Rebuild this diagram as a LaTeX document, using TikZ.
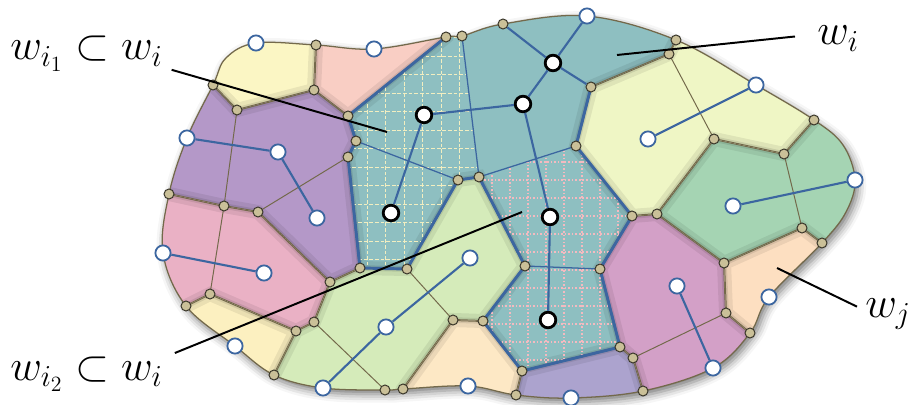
\RequirePackage{fix-cm}
\documentclass[tikz,border=0pt]{standalone}
\usetikzlibrary{shadows.blur}

\definecolor{cellYellow}{RGB}{251,246,196}
\definecolor{cellSalmon}{RGB}{249,206,196}
\definecolor{cellPurple}{RGB}{180,152,200}
\definecolor{cellPink}{RGB}{234,177,197}
\definecolor{cellCream}{RGB}{252,240,192}
\definecolor{cellGreen}{RGB}{213,235,186}
\definecolor{cellSand}{RGB}{253,232,197}
\definecolor{cellLavender}{RGB}{172,163,206}
\definecolor{cellMagenta}{RGB}{211,160,199}
\definecolor{cellPeach}{RGB}{253,223,193}
\definecolor{cellMint}{RGB}{165,212,179}
\definecolor{cellLime}{RGB}{239,246,197}
\definecolor{cellTeal}{RGB}{142,191,193}
\definecolor{linkBlue}{RGB}{60,102,160}
\definecolor{edgeBrown}{RGB}{115,105,75}
\definecolor{vtxFill}{RGB}{202,192,152}
\definecolor{vtxLine}{RGB}{55,52,40}
\definecolor{gridCream}{RGB}{242,238,192}
\definecolor{gridPink}{RGB}{245,186,192}

\tikzset{
  vtx/.style={circle, draw=vtxLine, fill=vtxFill, line width=0.7pt, inner sep=0pt, minimum size=2.5mm},
  site/.style={circle, draw=linkBlue, fill=white, line width=1.3pt, inner sep=0pt, minimum size=3.8mm},
  core/.style={circle, draw=black, fill=white, line width=2pt, inner sep=0pt, minimum size=3.9mm},
  link/.style={draw=linkBlue, line width=1.5pt},
  cut/.style={draw=linkBlue, line width=0.9pt},
  rim/.style={draw=linkBlue, line width=2.1pt, line join=round},
  seam/.style={draw=edgeBrown, line width=0.7pt},
  cellline/.style={draw=edgeBrown, line width=1.4pt},
  grida/.style={draw=gridCream, line width=0.7pt, dash pattern=on 2.6pt off 1.4pt},
  gridb/.style={draw=gridPink, line width=1pt, dash pattern=on 1.1pt off 1.4pt},
  pointer/.style={draw=black, line width=1.4pt},
  lbl/.style={font=\fontsize{31}{36}\selectfont, inner sep=0pt},
}

% one coloured cluster: fill, soft inner shade, outline
\newcommand{\cellfill}[2]{%
  \begin{scope}
    \clip #2;
    \fill[#1] #2;
    \draw[line width=10pt, black, opacity=0.07] #2;
    \draw[line width=4pt, black, opacity=0.09] #2;
    \draw[cellline] #2;
  \end{scope}}

\newcommand{\blobpath}{plot[smooth cycle, tension=0.6] coordinates {(t1) (226,58) (s1) (t4) (s2) (t6) (t7) (t8) (s21) (t9) (s20) (t38) (843,145) (s18) (846,212) (t40) (s16) (t43) (s15) (t46) (s13) (t48) (s12) (t29) (t28) (s9) (t27) (s8) (t26) (s6) (t17) (s3)}}

\begin{document}
\begin{tikzpicture}[x=0.25mm, y=-0.25mm]
\useasboundingbox (0,0) rectangle (909,405);

% voronoi vertices
\foreach \n/\x/\y in {t1/213/85, t2/237/110, t3/314/90, t4/316/45, t5/348/116, t6/446/37,
    t7/462/36, t8/503/24, t9/676/40, t10/669/54, t11/591/87, t12/576/146, t13/479/177,
    t14/458/180, t15/356/141, t16/348/157, t17/169/194, t18/224/206, t19/258/212,
    t20/360/268, t21/407/269, t22/330/282, t23/314/322, t24/296/331, t25/210/294,
    t26/186/306, t27/274/375, t28/385/390, t29/403/389, t30/453/320, t31/483/321,
    t32/525/266, t33/600/269, t34/632/216, t35/657/214, t36/714/139, t37/784/154,
    t38/814/120, t39/802/228, t40/822/243, t41/724/263, t42/726/313, t43/750/333,
    t44/620/347, t45/633/358, t46/643/391, t47/522/371, t48/516/395}
  \coordinate (\n) at (\x,\y);
% sites
\foreach \n/\x/\y in {s1/256/43, s2/374/49, s3/187/138, s4/278/152, s5/317/218, s6/163/253,
    s7/264/273, s8/235/346, s9/323/388, s10/386/327, s11/470/258, s12/468/386, s13/571/398,
    s14/677/286, s15/713/368, s16/769/297, s17/733/206, s18/855/180, s19/648/139,
    s20/756/85, s21/587/16,
    k1/424/115, k2/391/213, k3/553/63, k4/523/104, k5/550/217, k6/548/320}
  \coordinate (\n) at (\x,\y);
% points outside the outline
\foreach \n/\x/\y in {o1/165/50, o2/318/-10, o3/443/-10, o4/691/3, o5/839/85, o6/862/273,
    o7/785/365, o8/650/440, o9/515/440, o10/403/440, o11/254/420, o12/140/335,
    o13/120/194, o14/120/-10, o15/930/180}
  \coordinate (\n) at (\x,\y);

\fill[white, blur shadow={shadow xshift=2pt, shadow yshift=-3pt, shadow blur radius=6pt, shadow opacity=55}] \blobpath;

\begin{scope}
  \clip \blobpath;
  \cellfill{cellYellow}{(o1) -- (t1) -- (t2) -- (t3) -- (t4) -- (o2) -- (o14) -- cycle}
  \cellfill{cellSalmon}{(t4) -- (t3) -- (t5) -- (t6) -- (o3) -- (o2) -- cycle}
  \cellfill{cellPurple}{(o1) -- (t1) -- (t2) -- (t3) -- (t5) -- (t15) -- (t16) -- (t20) -- (t22) -- (t19) -- (t18) -- (t17) -- (o13) -- cycle}
  \cellfill{cellPink}{(o13) -- (t17) -- (t18) -- (t19) -- (t22) -- (t23) -- (t24) -- (t25) -- (t26) -- (o12) -- cycle}
  \cellfill{cellCream}{(o12) -- (t26) -- (t25) -- (t24) -- (t27) -- (o11) -- cycle}
  \cellfill{cellGreen}{(t24) -- (t23) -- (t22) -- (t20) -- (t21) -- (t14) -- (t13) -- (t32) -- (t31) -- (t30) -- (t29) -- (o10) -- (o11) -- (t27) -- cycle}
  \cellfill{cellSand}{(t29) -- (t30) -- (t31) -- (t47) -- (t48) -- (o9) -- (o10) -- cycle}
  \cellfill{cellLavender}{(t48) -- (t47) -- (t44) -- (t45) -- (t46) -- (o8) -- (o9) -- cycle}
  \cellfill{cellMagenta}{(t44) -- (t33) -- (t34) -- (t35) -- (t41) -- (t42) -- (t43) -- (o7) -- (o8) -- (t46) -- (t45) -- cycle}
  \cellfill{cellPeach}{(t41) -- (t39) -- (t40) -- (o6) -- (o7) -- (t43) -- (t42) -- cycle}
  \cellfill{cellMint}{(t35) -- (t36) -- (t37) -- (t38) -- (o5) -- (o15) -- (o6) -- (t40) -- (t39) -- (t41) -- cycle}
  \cellfill{cellLime}{(t11) -- (t10) -- (t9) -- (o4) -- (o5) -- (t38) -- (t37) -- (t36) -- (t35) -- (t34) -- (t12) -- cycle}
  \cellfill{cellTeal}{(t5) -- (t6) -- (o3) -- (o4) -- (t9) -- (t10) -- (t11) -- (t12) -- (t34) -- (t33) -- (t44) -- (t47) -- (t31) -- (t32) -- (t13) -- (t14) -- (t21) -- (t20) -- (t16) -- (t15) -- cycle}

  % w_{i_1}: dashed grid
  \begin{scope}
    \clip (t5) -- (t6) -- (t7) -- (t13) -- (t14) -- (t21) -- (t20) -- (t16) -- (t15) -- cycle;
    \foreach \x in {330,348.5,...,490} \draw[grida] (\x,20) -- (\x,290);
    \foreach \y in {19,37.5,...,290} \draw[grida] (330,\y) -- (490,\y);
  \end{scope}
  % w_{i_2}: dotted grid
  \begin{scope}
    \clip (t13) -- (t12) -- (t34) -- (t33) -- (t44) -- (t47) -- (t31) -- (t32) -- cycle;
    \foreach \x in {474,492,...,640} \draw[gridb] (\x,140) -- (\x,380);
    \foreach \y in {144,162,...,380} \draw[gridb] (470,\y) -- (640,\y);
  \end{scope}
\end{scope}

% sub-cell borders
\draw[seam] (t2) -- (t18) -- (t25);
\draw[seam] (t16) -- (t19);
\draw[seam] (t23) -- (t28);
\draw[seam] (t21) -- (t30);
\draw[seam] (t45) -- (t42);
\draw[seam] (t37) -- (t39);
\draw[seam] (t10) -- (t36);
\draw[cut] (t15) -- (t14);
\draw[cut] (t7) -- (t13) -- (t12);
\draw[cut] (t32) -- (t33);
\draw[rim] (t6) -- (t5) -- (t15) -- (t16) -- (t20) -- (t21) -- (t14) -- (t13) -- (t32) -- (t31) -- (t47) -- (t44) -- (t33) -- (t34) -- (t12) -- (t11);
\draw[draw=edgeBrown, line width=0.9pt] \blobpath;

% nodes
\foreach \i in {1,...,48} \node[vtx] (T\i) at (t\i) {};
\foreach \i in {1,...,21} \node[site] (S\i) at (s\i) {};
\foreach \i in {1,...,6} \node[core] (K\i) at (k\i) {};

% links between sites
\draw[link] (S3) -- (S4) (S4) -- (S5);
\draw[link] (S6) -- (S7);
\draw[link] (S9) -- (S10) (S10) -- (S11);
\draw[link] (S14) -- (S15);
\draw[link] (S17) -- (S18);
\draw[link] (S19) -- (S20);
\draw[link] (K3) -- (S21) (K3) -- (K4) (K3) -- (T8) (K3) -- (T11);
\draw[link] (K4) -- (K1) (K1) -- (K2);
\draw[link] (K4) -- (K5) (K5) -- (K6);

% labels
\node[lbl, anchor=base west] (l1) at (10,60) {$w_{i_1}\subset w_i$};
\node[lbl, anchor=base west] (l2) at (817,45) {$w_i$};
\node[lbl, anchor=base west] (l3) at (10,380) {$w_{i_2}\subset w_i$};
\node[lbl, anchor=base west] (l4) at (865,317) {$w_j$};
\coordinate (p1) at (387,132);
\coordinate (p2) at (617,55);
\coordinate (p3) at (522,212);
\coordinate (p4) at (777,268);
\draw[pointer] ([xshift=2.2mm, yshift=-4mm]l1.east) -- (p1);
\draw[pointer] ([xshift=-5.5mm, yshift=0.6mm]l2.west) -- (p2);
\draw[pointer] ([xshift=3mm, yshift=5.2mm]l3.east) -- (p3);
\draw[pointer] ([xshift=-2mm, yshift=1.8mm]l4.west) -- (p4);
\end{tikzpicture}
\end{document}
